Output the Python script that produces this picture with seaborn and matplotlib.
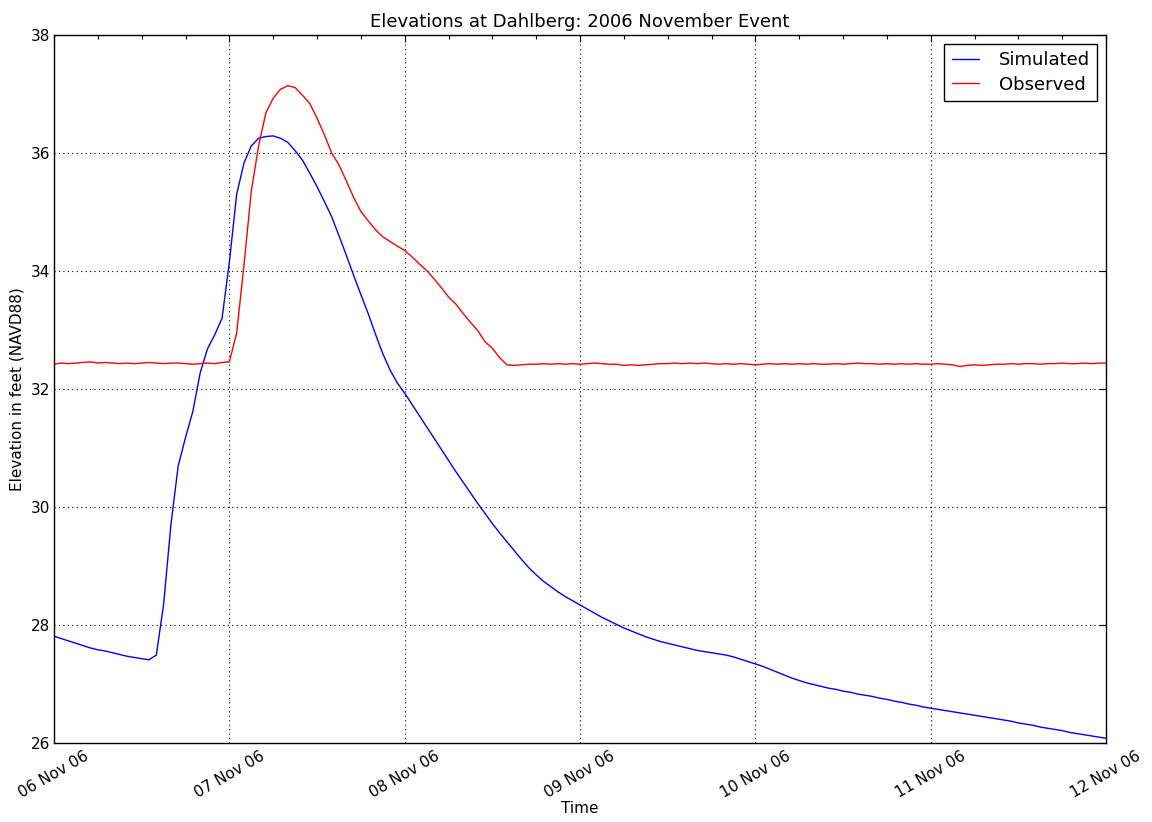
import numpy as np
import pandas as pd
import matplotlib
matplotlib.use("Agg")
import matplotlib.pyplot as plt
import matplotlib.dates as mdates
import seaborn as sns

# Hourly stage at Dahlberg, 06 Nov 2006 00:00 through 12 Nov 2006 00:00 (feet, NAVD88)
simulated = [
    27.81, 27.77, 27.73, 27.69, 27.65, 27.61, 27.58, 27.56, 27.53, 27.50,
    27.47, 27.45, 27.43, 27.41, 27.49, 28.35, 29.70, 30.70, 31.18, 31.62,
    32.27, 32.68, 32.92, 33.20, 34.15, 35.30, 35.83, 36.12, 36.25, 36.28,
    36.29, 36.25, 36.18, 36.04, 35.88, 35.66, 35.43, 35.18, 34.92, 34.60,
    34.27, 33.93, 33.60, 33.28, 32.93, 32.60, 32.32, 32.10, 31.93, 31.74,
    31.55, 31.36, 31.17, 30.98, 30.79, 30.60, 30.42, 30.24, 30.06, 29.89,
    29.72, 29.56, 29.41, 29.26, 29.11, 28.97, 28.85, 28.74, 28.65, 28.56,
    28.48, 28.41, 28.34, 28.27, 28.20, 28.13, 28.07, 28.01, 27.95, 27.90,
    27.85, 27.80, 27.76, 27.72, 27.69, 27.66, 27.63, 27.60, 27.57, 27.55,
    27.53, 27.51, 27.49, 27.46, 27.42, 27.38, 27.34, 27.30, 27.25, 27.20,
    27.15, 27.10, 27.06, 27.02, 26.99, 26.96, 26.93, 26.91, 26.88, 26.86,
    26.83, 26.81, 26.79, 26.76, 26.74, 26.71, 26.69, 26.66, 26.64, 26.61,
    26.59, 26.57, 26.55, 26.53, 26.51, 26.49, 26.47, 26.45, 26.43, 26.41,
    26.39, 26.37, 26.34, 26.32, 26.30, 26.27, 26.25, 26.23, 26.21, 26.18,
    26.16, 26.14, 26.12, 26.10, 26.08,
]

observed = [
    32.42, 32.44, 32.43, 32.44, 32.45, 32.46, 32.44, 32.45, 32.44, 32.43,
    32.44, 32.43, 32.44, 32.45, 32.44, 32.43, 32.44, 32.44, 32.43, 32.42,
    32.43, 32.44, 32.43, 32.45, 32.46, 32.95, 34.10, 35.35, 36.12, 36.68,
    36.93, 37.08, 37.14, 37.11, 36.98, 36.84, 36.59, 36.31, 36.00, 35.80,
    35.53, 35.25, 35.01, 34.85, 34.70, 34.58, 34.50, 34.42, 34.35, 34.24,
    34.12, 34.01, 33.87, 33.72, 33.56, 33.44, 33.28, 33.13, 32.99, 32.80,
    32.69, 32.53, 32.41, 32.40, 32.41, 32.42, 32.42, 32.43, 32.42, 32.43,
    32.42, 32.43, 32.42, 32.43, 32.44, 32.43, 32.42, 32.42, 32.40, 32.41,
    32.40, 32.41, 32.42, 32.43, 32.43, 32.44, 32.43, 32.44, 32.43, 32.44,
    32.43, 32.42, 32.43, 32.42, 32.43, 32.42, 32.41, 32.42, 32.43, 32.42,
    32.43, 32.42, 32.43, 32.42, 32.43, 32.42, 32.42, 32.43, 32.42, 32.43,
    32.44, 32.43, 32.43, 32.42, 32.43, 32.42, 32.43, 32.42, 32.43, 32.42,
    32.42, 32.43, 32.42, 32.41, 32.38, 32.40, 32.41, 32.40, 32.41, 32.42,
    32.42, 32.43, 32.42, 32.43, 32.43, 32.42, 32.43, 32.43, 32.44, 32.43,
    32.43, 32.44, 32.43, 32.44, 32.44,
]

series_names = ["Simulated", "Observed"]
series_colors = {"Simulated": "blue", "Observed": "red"}
y_ticks = [26, 28, 30, 32, 34, 36, 38]

times = pd.date_range("2006-11-06 00:00", periods=len(simulated), freq="h")
df = pd.concat([
    pd.DataFrame({"time": times, "elevation": simulated, "series": "Simulated"}),
    pd.DataFrame({"time": times, "elevation": observed, "series": "Observed"}),
], ignore_index=True)

sns.set_style("white")
plt.rcParams.update({
    "font.family": ["DejaVu Sans"],
    "text.color": "black",
    "axes.labelcolor": "black",
    "xtick.color": "black",
    "ytick.color": "black",
})

fig = plt.figure(figsize=(11.52, 8.22), dpi=100)
ax = fig.add_axes([0.0469, 0.0961, 0.9132, 0.8613])

sns.lineplot(data=df, x="time", y="elevation", hue="series",
             hue_order=series_names, palette=series_colors,
             linewidth=1.0, ax=ax, legend=False)

ax.set_xlim(pd.Timestamp("2006-11-06"), pd.Timestamp("2006-11-12"))
ax.set_ylim(26, 38)
ax.set_yticks(y_ticks)

ax.xaxis.set_major_locator(mdates.DayLocator())
ax.xaxis.set_minor_locator(mdates.HourLocator(byhour=[6, 12, 18]))
ax.xaxis.set_major_formatter(mdates.DateFormatter("%d %b %y"))

ax.tick_params(which="both", direction="in", top=True, right=True,
               labelsize=11)
ax.tick_params(which="major", length=5, width=0.8)
ax.tick_params(which="minor", length=3, width=0.8)
ax.tick_params(axis="x", pad=4)
ax.tick_params(axis="y", pad=3)
for lbl in ax.get_xticklabels():
    lbl.set_rotation(30)
    lbl.set_ha("center")

for sp in ax.spines.values():
    sp.set_color("black")
    sp.set_linewidth(1.0)

ax.grid(True, which="major", color="black", linestyle=(0, (1, 3)), linewidth=0.8)

ax.set_title("Elevations at Dahlberg: 2006 November Event", fontsize=13)
ax.set_xlabel("Time", fontsize=11, labelpad=0)
ax.set_ylabel("Elevation in feet (NAVD88)", fontsize=11)

handles = [plt.Line2D([], [], color=series_colors[n], linewidth=1.0) for n in series_names]
leg = ax.legend(handles, series_names, loc="upper right", fontsize=13,
                frameon=True, fancybox=False, framealpha=1.0,
                borderpad=0.4, handlelength=1.5, handletextpad=1.1,
                labelspacing=0.35, borderaxespad=0.5)
leg.get_frame().set_edgecolor("black")
leg.get_frame().set_linewidth(1.0)

fig.savefig("out.png", dpi=100, facecolor="white")
